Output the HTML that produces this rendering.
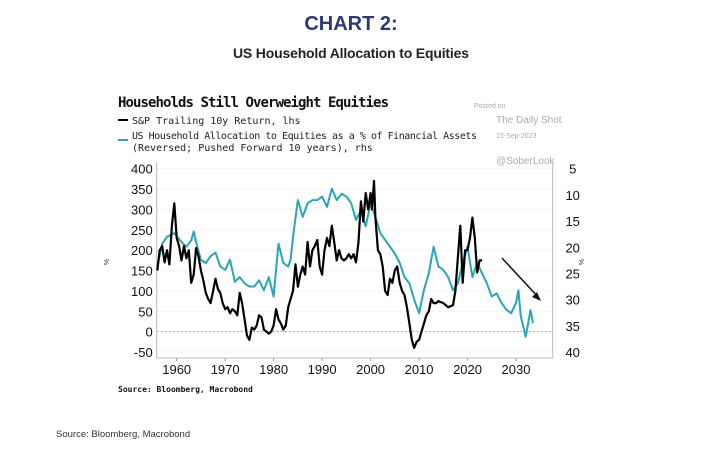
<!DOCTYPE html>
<html><head><meta charset="utf-8"><style>
body{margin:0;background:#fff;width:703px;height:451px;overflow:hidden;}
svg{display:block;}
</style></head><body>
<svg id="c" width="703" height="451" viewBox="0 0 703 451" xmlns="http://www.w3.org/2000/svg">
<text x="351" y="30" text-anchor="middle" font-family="Liberation Sans, sans-serif" font-weight="bold" font-size="20" fill="#2b3a73">CHART 2:</text>
<text x="351" y="58" text-anchor="middle" font-family="Liberation Sans, sans-serif" font-weight="bold" font-size="14" fill="#222" textLength="236">US Household Allocation to Equities</text>
<text x="118" y="107" font-family="DejaVu Sans Mono, monospace" font-weight="bold" font-size="14" fill="#111" textLength="271">Households Still Overweight Equities</text>
<line x1="118" y1="120" x2="128" y2="120" stroke="#000" stroke-width="2"/>
<text x="132" y="124" font-family="DejaVu Sans Mono, monospace" font-size="10" fill="#222">S&amp;P Trailing 10y Return, lhs</text>
<line x1="118" y1="140" x2="128" y2="140" stroke="#2aa5b5" stroke-width="2"/>
<text x="132" y="139" font-family="DejaVu Sans Mono, monospace" font-size="10" fill="#222" textLength="345">US Household Allocation to Equities as a % of Financial Assets</text>
<text x="132" y="151" font-family="DejaVu Sans Mono, monospace" font-size="10" fill="#222">(Reversed; Pushed Forward 10 years), rhs</text>
<text x="474" y="108" font-family="Liberation Sans, sans-serif" font-size="7" fill="#aab">Posted on</text>
<text x="496" y="123" font-family="Liberation Sans, sans-serif" font-size="10" fill="#aab">The Daily Shot</text>
<text x="496" y="138" font-family="Liberation Sans, sans-serif" font-size="7" fill="#aab">15-Sep-2023</text>
<text x="496" y="164" font-family="Liberation Sans, sans-serif" font-size="10" fill="#aab">@SoberLook</text>
<g id="plot"></g>
<text x="118" y="392" font-family="DejaVu Sans Mono, monospace" font-weight="bold" font-size="8" fill="#111">Source: Bloomberg, Macrobond</text>
<text x="56" y="437" font-family="Liberation Sans, sans-serif" font-size="9.5" fill="#333">Source: Bloomberg, Macrobond</text>
</svg>
<script>
const spYears=[1956,1956.5,1957,1957.5,1958,1958.5,1959,1959.5,1960,1960.5,1961,1961.5,1962,1962.5,1963,1963.5,1964,1964.5,1965,1965.5,1966,1966.5,1967,1967.5,1968,1968.5,1969,1969.5,1970,1970.5,1971,1971.5,1972,1972.5,1973,1973.5,1974,1974.5,1975,1975.5,1976,1976.5,1977,1977.5,1978,1978.5,1979,1979.5,1980,1980.5,1981,1981.5,1982,1982.5,1983,1983.5,1984,1984.5,1985,1985.5,1986,1986.5,1987,1987.5,1988,1988.5,1989,1989.5,1990,1990.5,1991,1991.5,1992,1992.5,1993,1993.5,1994,1994.5,1995,1995.5,1996,1996.5,1997,1997.5,1998,1998.5,1999,1999.5,2000,2000.3,2000.7,2001,2001.5,2002,2002.5,2003,2003.5,2004,2004.5,2005,2005.5,2006,2006.5,2007,2007.5,2008,2008.5,2009,2009.5,2010,2010.5,2011,2011.5,2012,2012.5,2013,2013.5,2014,2015,2016,2017,2017.5,2018,2018.5,2019,2019.5,2020,2020.5,2021,2021.5,2022,2022.5,2023];
const spValues=[150,200,210,170,200,165,260,315,230,210,175,210,180,200,120,140,205,185,150,125,95,80,70,100,130,105,95,70,55,60,45,55,50,40,95,70,30,-10,-20,10,5,15,40,35,5,0,-5,0,15,55,30,20,5,15,60,80,100,165,110,140,160,140,220,160,200,210,225,160,140,200,230,210,260,220,175,200,180,175,180,190,180,190,170,220,320,270,340,300,340,300,370,280,200,190,160,100,90,130,120,150,160,120,100,90,60,20,-20,-40,-25,-20,0,20,40,50,80,70,70,75,70,60,65,100,180,260,120,200,200,230,280,230,145,175,175];
const allocYears=[1956,1957,1958,1959.5,1961,1962,1963,1963.5,1964,1965,1966,1967,1968,1969,1970,1971,1972,1973,1974,1975,1976,1977,1978,1979,1980,1981,1982,1983,1983.5,1984,1985,1986,1987,1988,1989,1990,1991,1992,1993,1994,1995,1996,1997,1998,1999,2000,2001,2002,2003,2004,2005,2006,2007,2008,2009,2010,2011,2012,2013,2014,2015,2016,2017,2018,2019,2020,2021,2022,2023,2024,2025,2026,2027,2028,2029,2030,2030.5,2031,2032,2033,2033.5];
const allocValues=[23.7,19.3,18,17.3,19,19.9,18.7,17,19,22.4,23,21.7,21,23.7,24.3,22.4,26.6,25.7,26.9,27.5,27.5,26.3,28.2,25.7,29.4,19.3,23,23.7,22.4,18,11,14.2,11.6,11,11,10.3,12.3,8.8,11,9.8,10.3,11.6,14.8,12.9,16,11.6,14.2,17.3,18.6,19.9,21.2,23,25.7,26.9,30,32.6,28.2,25,19.9,23.7,24.3,25.7,28.2,26.9,23,19.9,25.7,23,25,26.9,29.4,28.8,30.6,31.9,32.6,30.6,28.2,33.2,37.1,32,34.5];
const leftTicks=[400,350,300,250,200,150,100,50,0,-50];
const rightTicks=[5,10,15,20,25,30,35,40];
const xTicks=[1960,1970,1980,1990,2000,2010,2020,2030];
const X0=156.7,X1=552.7,Y0=168.7,Y1=352;
const xs=y=>176.7+(y-1960)*(516-176.7)/70;
const yl=v=>Y0+(400-v)*(Y1-Y0)/450;
const yr=v=>Y0+(v-5)*(Y1-Y0)/35;
const NS="http://www.w3.org/2000/svg";
const g=document.getElementById('plot');
function mk(t,a){const e=document.createElementNS(NS,t);for(const k in a)e.setAttribute(k,a[k]);g.appendChild(e);return e;}
leftTicks.forEach(v=>{
 const l=mk('line',{x1:X0,x2:X1,y1:yl(v),y2:yl(v),stroke:v===0?'#888':'#ddd','stroke-width':v===0?0.8:0.6,'stroke-dasharray':'2,2'});
 
 
 const t=mk('text',{x:X0-4,y:yl(v)+5,'text-anchor':'end','font-family':'Liberation Sans, sans-serif','font-size':13,fill:'#111'});
 t.textContent=v;
 
 
});
rightTicks.forEach(v=>{
 const t=mk('text',{x:X1+20,y:yr(v)+5,'text-anchor':'middle','font-family':'Liberation Sans, sans-serif','font-size':13,fill:'#111'});
 t.textContent=v;
 
 
});
xTicks.forEach(v=>{
 const t=mk('text',{x:xs(v),y:374,'text-anchor':'middle','font-family':'Liberation Sans, sans-serif','font-size':13,fill:'#111'});
 t.textContent=v;
 
 
 const k=mk('line',{x1:xs(v),x2:xs(v),y1:358,y2:361,stroke:'#999'});
 
 
});
const ax=mk('path',{d:`M${X0},162V358H${X1}V162`,fill:'none',stroke:'#bbb','stroke-width':1});


const ul=mk('text',{x:109,y:262,'font-family':'Liberation Sans, sans-serif','font-size':7,fill:'#333',transform:'rotate(-90 109 262)','text-anchor':'middle'});
ul.textContent='%';


const ur=mk('text',{x:584,y:262,'font-family':'Liberation Sans, sans-serif','font-size':7,fill:'#333',transform:'rotate(-90 584 262)','text-anchor':'middle'});
ur.textContent='%';


const tp=mk('path',{d:allocYears.map((y,i)=>(i?'L':'M')+xs(y).toFixed(1)+','+yr(allocValues[i]).toFixed(1)).join(''),fill:'none',stroke:'#2aa5b5','stroke-width':2,'stroke-linejoin':'round'});


const bp=mk('path',{d:spYears.map((y,i)=>(i?'L':'M')+xs(y).toFixed(1)+','+yl(spValues[i]).toFixed(1)).join(''),fill:'none',stroke:'#000','stroke-width':2.2,'stroke-linejoin':'round'});


const ar=mk('line',{x1:502,y1:258,x2:539,y2:298,stroke:'#111','stroke-width':1.5});


const ah=mk('path',{d:'M541,301L532,297L537,292Z',fill:'#111'});


</script>
</body></html>
